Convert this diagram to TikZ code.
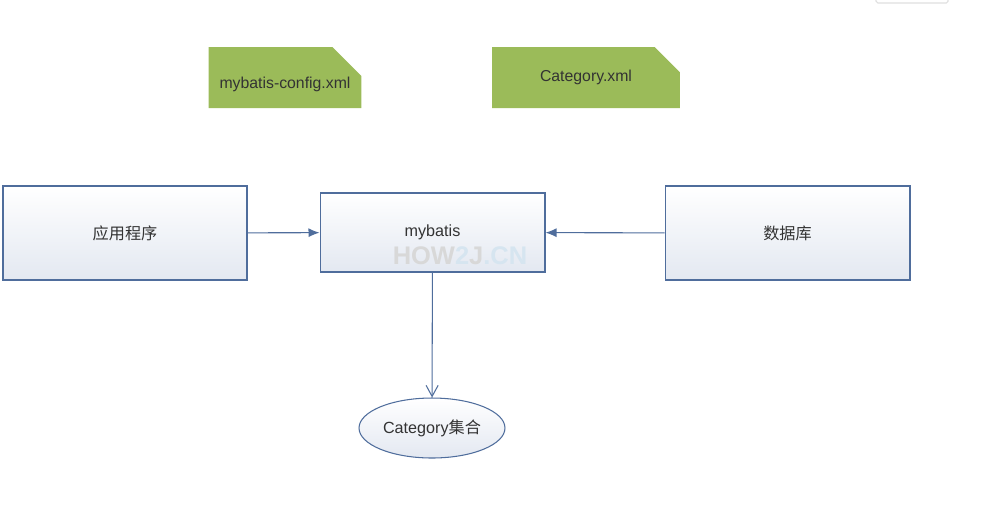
\documentclass[tikz,border=0pt]{standalone}
\usepackage{fontspec}
\setmainfont{Liberation Sans}
\newfontfamily\cjk{Noto Sans CJK SC}
\usetikzlibrary{arrows.meta, positioning, shapes.geometric, shapes.misc}
\definecolor{boxline}{HTML}{4F6D9C}
\definecolor{boxbot}{HTML}{E3E8F1}
\definecolor{xmlgreen}{HTML}{9BBB59}
\definecolor{txtgray}{HTML}{333333}
\definecolor{wmgray}{HTML}{D8D8D8}
\definecolor{wmblue}{HTML}{D6E5F0}
\tikzset{
  block/.style={
    draw=boxline,
    line width=0.6pt,
    rectangle,
    top color=white,
    bottom color=boxbot,
    inner sep=0pt,
    align=center,
    text=txtgray,
    font=\fontsize{9.2}{11}\selectfont
  },
  xmlfile/.style={
    chamfered rectangle,
    chamfered rectangle corners=north east,
    chamfered rectangle xsep=0.4cm,
    chamfered rectangle ysep=0.36cm,
    fill=xmlgreen,
    inner sep=0pt,
    minimum height=1.22cm,
    text=txtgray,
    font=\fontsize{9}{11}\selectfont
  },
  arrow/.style={
    -{Latex[length=2.2mm,width=1.8mm]}, line width=0.6pt, draw=boxline}
}

\begin{document}
\begin{tikzpicture}[
    x=0.02cm, y=-0.02cm,
    result/.style={
        ellipse, draw=boxline, line width=0.6pt,
        top color=white, bottom color=boxbot,
        inner sep=0pt, minimum width=2.92cm, minimum height=1.2cm,
        text=txtgray, font=\fontsize{9.2}{11}\selectfont
    },
    openarrow/.style={-{Straight Barb[length=2.2mm,width=2.4mm]}, line width=0.6pt, draw=boxline}
]
\useasboundingbox (0,0) rectangle (993,508);
\draw[gray!25, line width=0.6pt, rounded corners=1pt] (876,-6) rectangle (948,3);

% config files
\node[xmlfile, minimum width=2.96cm, text height=0.44cm, text depth=0cm] (cfg) at (285,77.5) {mybatis-config.xml};
\node[xmlfile, minimum width=3.76cm] (mapper) at (586,77.5) {Category.xml};

% main row
\node[block, minimum width=4.88cm, minimum height=1.88cm] (app) at (125,233) {\cjk 应用程序};
\node[block, minimum width=4.5cm, minimum height=1.58cm] (mybatis) at (432.5,232.5) {mybatis};
\node[block, minimum width=4.9cm, minimum height=1.88cm] (db) at (787.5,233) {\cjk 数据库};
\node[font=\bfseries\fontsize{14.5}{16}\selectfont, text=wmgray] (watermark) at (460,256)
    {HOW\textcolor{wmblue}{2}J\textcolor{wmblue}{.CN}};

\node[result] (list) at (432,428) {Category{\cjk 集合}};

\draw[arrow] (app) -- (mybatis);
\draw[arrow] (db) -- (mybatis);
\draw[openarrow] (mybatis) -- (list);
\end{tikzpicture}
\end{document}
